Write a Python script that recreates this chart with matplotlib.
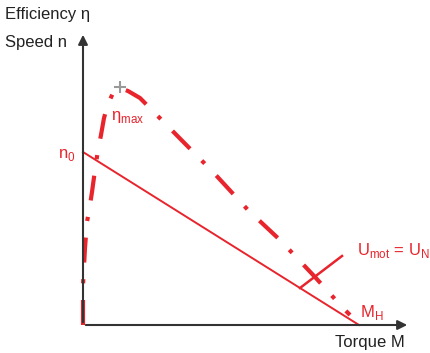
import matplotlib
matplotlib.use("Agg")
import matplotlib.pyplot as plt

plt.rcParams['font.family'] = ['Liberation Sans', 'DejaVu Sans']

# speed line n(M): from n0 down to the stall torque MH
torque_line = [0, 276]
speed_line = [173, 0]

# efficiency curve (dash-dot)
torque_eta = [0, 0, 2, 3, 4, 7, 9, 12, 15, 18, 21, 25, 30, 37, 45, 57,
              130, 165, 197, 232, 260, 267]
eta = [0, 40, 77, 90, 103, 120, 133, 155, 175, 190, 207, 221, 232, 237,
       234, 227, 153, 115, 85, 48, 17, 10]

# operating point marker U_mot = U_N
op_torque = [217, 259]
op_value = [37, 69]

red = '#e8242c'
dark = '#333333'

fig = plt.figure(figsize=(4.31, 3.53), dpi=100)
ax = fig.add_axes([0, 0, 1, 1])
ax.set_xlim(-83, 348)
ax.set_ylim(-28, 325)
ax.axis('off')

# axes with arrows
ax.annotate('', xy=(327, 0), xytext=(0, 0),
            arrowprops=dict(arrowstyle='-|>', color=dark, lw=1.5, mutation_scale=14))
ax.annotate('', xy=(0, 293), xytext=(0, 0),
            arrowprops=dict(arrowstyle='-|>', color=dark, lw=1.5, mutation_scale=14))

ax.plot(torque_line, speed_line, color=red, lw=1.4)
ax.plot(torque_eta, eta, color=red, lw=3, dashes=(6, 4, 1.0, 4))
ax.plot(op_torque, op_value, color=red, lw=1.8)
ax.plot([37], [238], marker='+', color='#999999', ms=8, mew=1.5)

ax.text(-78, 310, 'Efficiency η', fontsize=12, color='#222222', va='center')
ax.text(-78, 283, 'Speed n', fontsize=12, color='#222222', va='center')
ax.text(252, -18, 'Torque M', fontsize=12, color='#222222', va='center')
ax.text(-25, 170, 'n$_\\mathregular{0}$', fontsize=12, color=red, va='center')
ax.text(28, 208, 'η$_\\mathregular{max}$', fontsize=12, color=red, va='center')
ax.text(274, 75, 'U$_\\mathregular{mot}$ = U$_\\mathregular{N}$', fontsize=12,
        color=red, va='center')
ax.text(277, 13, 'M$_\\mathregular{H}$', fontsize=12, color=red, va='center')

fig.savefig('out.png', dpi=100)
